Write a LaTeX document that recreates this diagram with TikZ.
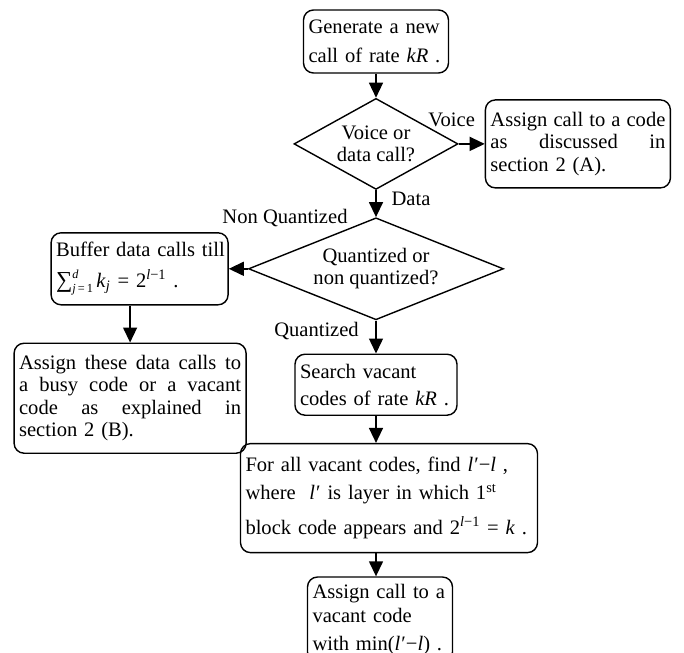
\documentclass[tikz,border=0pt]{standalone}
\usepackage{fontspec}
\setmainfont{Liberation Serif}
\usepackage{tikz}
\usetikzlibrary{positioning, shapes.geometric, arrows.meta}

\newcommand{\sumjd}{{\fontsize{13}{13}\selectfont ∑}\rlap{\raisebox{0.95ex}{\scriptsize\textit{d}}}\raisebox{-0.6ex}{\scriptsize\textit{j}\,=\,1}}
\newcommand{\lp}{\textit{l}\kern0.05em′}
\newcommand{\fillline}[1]{\makebox[\linewidth][s]{\spaceskip=0.25em plus 1fil\relax #1}}

\tikzset{
  flowbox/.style = {draw, rounded corners = 0.2cm, line width = 0.8pt, inner xsep = 0.1cm, inner ysep = 0pt, align = left},
  decision/.style = {draw, diamond, line width = 0.8pt, inner sep = 0pt, align = center},
  flowlbl/.style = {inner sep = 0pt, anchor = base},
  flow/.style = {-{Triangle[length = 0.3cm, width = 0.28cm]}, line width = 0.8pt},
}

\begin{document}
\begin{tikzpicture}[every node/.style = {font = \fontsize{11.7}{12.8}\selectfont}]
    \useasboundingbox (0,0) rectangle (13.68,-13.06);

    \node[flowbox, text width = 2.7cm, minimum height = 1.26cm] (gen) at (7.52,-0.83)
      {\mbox{Generate a new}\\[4pt] \mbox{call of rate \textit{kR}\ .}};
    \node[decision, below = 0.48cm of gen, aspect = 1.8, minimum width = 3.28cm, minimum height = 1.82cm] (dia1)
      {Voice or\\ data call?};
    \node[flowbox, right = 0.52cm of dia1, text width = 3.5cm, minimum height = 1.76cm] (voice)
      {\fillline{Assign call to a code}\\ \fillline{as discussed in}\\ section 2 (A).};
    \node[decision, below = 0.54cm of dia1, aspect = 2.5, minimum width = 5.1cm, minimum height = 2.04cm] (dia2)
      {Quantized or\\ non quantized?};
    \node[flowbox, left = 0.38cm of dia2, text width = 3.34cm, minimum height = 1.44cm] (buffer)
      {\mbox{Buffer data calls till}\\[4.5pt] \mbox{\sumjd\,\textit{k}\textsubscript{\textit{j}} = 2\textsuperscript{\textit{l}−1}\ .}};
    \node[flowbox, below = 0.74cm of buffer, xshift = -0.19cm, text width = 4.44cm, minimum height = 2.2cm] (assignB)
      {\fillline{Assign these data calls to}\\ \fillline{a busy code or a vacant}\\ \fillline{code as explained in}\\ section 2 (B).};
    \node[flowbox, below = 0.66cm of dia2, text width = 3.04cm, minimum height = 1.22cm] (search)
      {Search vacant\\[2.6pt] \mbox{codes of rate \textit{kR}\ .}};
    \node[flowbox, below = 0.54cm of search, xshift = 0.26cm, text width = 5.74cm, minimum height = 2.18cm] (forall)
      {For all vacant codes, find \lp−\textit{l}\ ,\\[3pt]
       where\ \ \lp\ is layer in which 1\textsuperscript{st}\\[7pt]
       block code appears and 2\textsuperscript{\textit{l}−1} = \textit{k}\ .};
    \node[flowbox, below = 0.46cm of forall, xshift = -0.18cm, text width = 2.7cm, minimum height = 1.7cm] (final)
      {\mbox{Assign call to a}\\[1pt] vacant code\\[3pt] \mbox{with min(\lp−\textit{l})\ .}};

    \node[flowlbl] (voicelbl) at ([xshift = -0.14cm, yshift = 0.35cm]dia1.east) {Voice};
    \node[flowlbl] (datalbl) at ([xshift = 0.7cm, yshift = -0.3cm]dia1.south) {Data};
    \node[flowlbl] (nonqlbl) at ([xshift = -1.82cm, yshift = -0.12cm]dia2.north) {Non Quantized};
    \node[flowlbl] (qlbl) at ([xshift = -1.19cm, yshift = -0.32cm]dia2.south) {Quantized};

    \draw[flow] (gen.south) -- (dia1.north);
    \draw[flow] (dia1.east) -- (dia1.east -| voice.west);
    \draw[flow] (dia1.south) -- (dia2.north);
    \draw[flow] (dia2.west) -- (dia2.west -| buffer.east);
    \draw[flow] (assignB.north |- buffer.south) -- (assignB.north);
    \draw[flow] (dia2.south) -- (dia2.south |- search.north);
    \draw[flow] (search.south) -- (search.south |- forall.north);
    \draw[flow] (forall.south -| search.south) -- (final.north -| search.south);
\end{tikzpicture}
\end{document}
